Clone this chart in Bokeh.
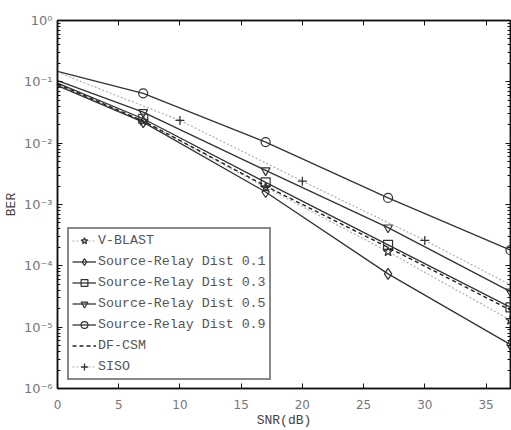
from bokeh.plotting import figure
from bokeh.models import (LogAxis, LinearAxis, FixedTicker, CustomJSTickFormatter,
                          Legend, LegendItem, Range1d)
from bokeh.embed import file_html
from bokeh.resources import INLINE

# ---- data ----
snr = [0, 7, 17, 27, 37]
ber_vblast = [0.090, 0.023, 1.9e-3, 1.7e-4, 1.3e-5]
ber_d01 = [0.087, 0.022, 1.6e-3, 7.4e-5, 5.2e-6]
ber_d03 = [0.095, 0.025, 2.3e-3, 2.2e-4, 2.1e-5]
ber_d05 = [0.105, 0.032, 3.6e-3, 4.2e-4, 3.8e-5]
ber_d09 = [0.148, 0.065, 1.04e-2, 1.28e-3, 1.8e-4]
ber_dfcsm = [0.092, 0.023, 2.0e-3, 2.0e-4, 1.9e-5]
snr_siso = [0, 10, 20, 30, 37]
ber_siso = [0.143, 0.0235, 2.4e-3, 2.6e-4, 4.9e-5]

marker_snr = [7, 17, 27, 37]
siso_marker_snr = [10, 20, 30]

x_ticks = [0, 5, 10, 15, 20, 25, 30, 35]
y_ticks = [1e-6, 1e-5, 1e-4, 1e-3, 1e-2, 1e-1, 1.0]
y_minor = [k * 10.0 ** e for e in range(-6, 0) for k in range(2, 10)]

DARK = "#333333"
LIGHT = "#b0b0b0"

p = figure(width=511, height=430, y_axis_type="log",
           x_range=Range1d(0, 37), y_range=Range1d(1e-6, 1),
           output_backend="svg", toolbar_location=None)
p.min_border_left = 50
p.min_border_right = 1
p.min_border_top = 20
p.min_border_bottom = 41
p.xgrid.visible = False
p.ygrid.visible = False
p.outline_line_color = "#111111"
p.outline_line_width = 1.5
p.background_fill_color = "white"
p.border_fill_color = "white"

def style_axis(ax):
    ax.axis_line_color = "#111111"
    ax.axis_line_width = 1.5
    ax.major_tick_in = 5
    ax.major_tick_out = 0
    ax.major_tick_line_color = "#111111"
    ax.minor_tick_in = 3
    ax.minor_tick_out = 0
    ax.minor_tick_line_color = "#111111"

sup_code = """
const sup = {'0':'\u2070','1':'\u00b9','2':'\u00b2','3':'\u00b3','4':'\u2074',
             '5':'\u2075','6':'\u2076','7':'\u2077','8':'\u2078','9':'\u2079','-':'\u207b'};
const e = Math.round(Math.log10(tick));
return '10' + String(e).split('').map(c => sup[c]).join('');
"""

yax = p.yaxis[0]
yax.ticker = FixedTicker(ticks=y_ticks, minor_ticks=y_minor)
yax.formatter = CustomJSTickFormatter(code=sup_code)
style_axis(yax)
yax.major_label_text_font = "DejaVu Sans"
yax.major_label_text_font_size = "13px"
yax.major_label_text_color = "#777777"
yax.major_label_standoff = 5
yax.axis_label = "BER"
yax.axis_label_text_font = "Liberation Mono"
yax.axis_label_text_font_size = "13px"
yax.axis_label_text_font_style = "normal"
yax.axis_label_text_color = "#444444"
yax.axis_label_standoff = 2

xax = p.xaxis[0]
xax.ticker = FixedTicker(ticks=x_ticks, minor_ticks=[])
style_axis(xax)
xax.major_label_text_font = "DejaVu Sans"
xax.major_label_text_font_size = "12px"
xax.major_label_text_color = "#777777"
xax.major_label_standoff = 11
xax.axis_label = "SNR(dB)"
xax.axis_label_text_font = "Liberation Mono"
xax.axis_label_text_font_size = "13px"
xax.axis_label_text_font_style = "normal"
xax.axis_label_text_color = "#444444"
xax.axis_label_standoff = 1

blank = CustomJSTickFormatter(code="return '';")
top = LinearAxis(ticker=FixedTicker(ticks=x_ticks, minor_ticks=[]), formatter=blank)
style_axis(top)
top.major_label_standoff = 0
top.axis_label_standoff = 0
p.add_layout(top, "above")
right = LogAxis(ticker=FixedTicker(ticks=y_ticks, minor_ticks=y_minor), formatter=blank)
style_axis(right)
right.major_label_standoff = 0
right.axis_label_standoff = 0
p.add_layout(right, "right")

def mk_at(xs_line, ys_line, xs_mark):
    return [ys_line[xs_line.index(x)] for x in xs_mark]

items = []

# V-BLAST
l = p.line(snr, ber_vblast, line_color=LIGHT, line_width=1.2, line_dash="2 2")
m = p.scatter(marker_snr, mk_at(snr, ber_vblast, marker_snr), marker="star", size=10,
              line_color=DARK, fill_color=None, line_width=1.2)
items.append(LegendItem(label="V-BLAST", renderers=[l, m]))

for ys, mkr, lab in [(ber_d01, "diamond", "Source-Relay Dist 0.1"),
                     (ber_d03, "square", "Source-Relay Dist 0.3"),
                     (ber_d05, "inverted_triangle", "Source-Relay Dist 0.5"),
                     (ber_d09, "circle", "Source-Relay Dist 0.9")]:
    l = p.line(snr, ys, line_color=DARK, line_width=1.3)
    m = p.scatter(marker_snr, mk_at(snr, ys, marker_snr), marker=mkr,
                  size=11 if mkr == "diamond" else 9,
                  line_color=DARK, fill_color=None, line_width=1.2)
    items.append(LegendItem(label=lab, renderers=[l, m]))

l = p.line(snr, ber_dfcsm, line_color="#222222", line_width=1.4, line_dash="4 3")
items.append(LegendItem(label="DF-CSM", renderers=[l]))

l = p.line(snr_siso, ber_siso, line_color=LIGHT, line_width=1.2, line_dash="2 2")
m = p.scatter(siso_marker_snr, mk_at(snr_siso, ber_siso, siso_marker_snr), marker="cross",
              size=9, line_color=DARK, line_width=1.3)
items.append(LegendItem(label="SISO", renderers=[l, m]))

legend = Legend(items=items, location=(10, 8))
legend.label_text_font = "Liberation Mono"
legend.label_text_font_size = "13.3px"
legend.label_text_color = "#555555"
legend.border_line_color = "#111111"
legend.border_line_width = 2
legend.background_fill_color = "white"
legend.background_fill_alpha = 1
legend.glyph_width = 24
legend.glyph_height = 17
legend.label_height = 17
legend.spacing = 4
legend.padding = 3
legend.margin = 0
legend.label_standoff = 2
p.add_layout(legend, "center")

open("out.html", "w").write(file_html(p, INLINE))
